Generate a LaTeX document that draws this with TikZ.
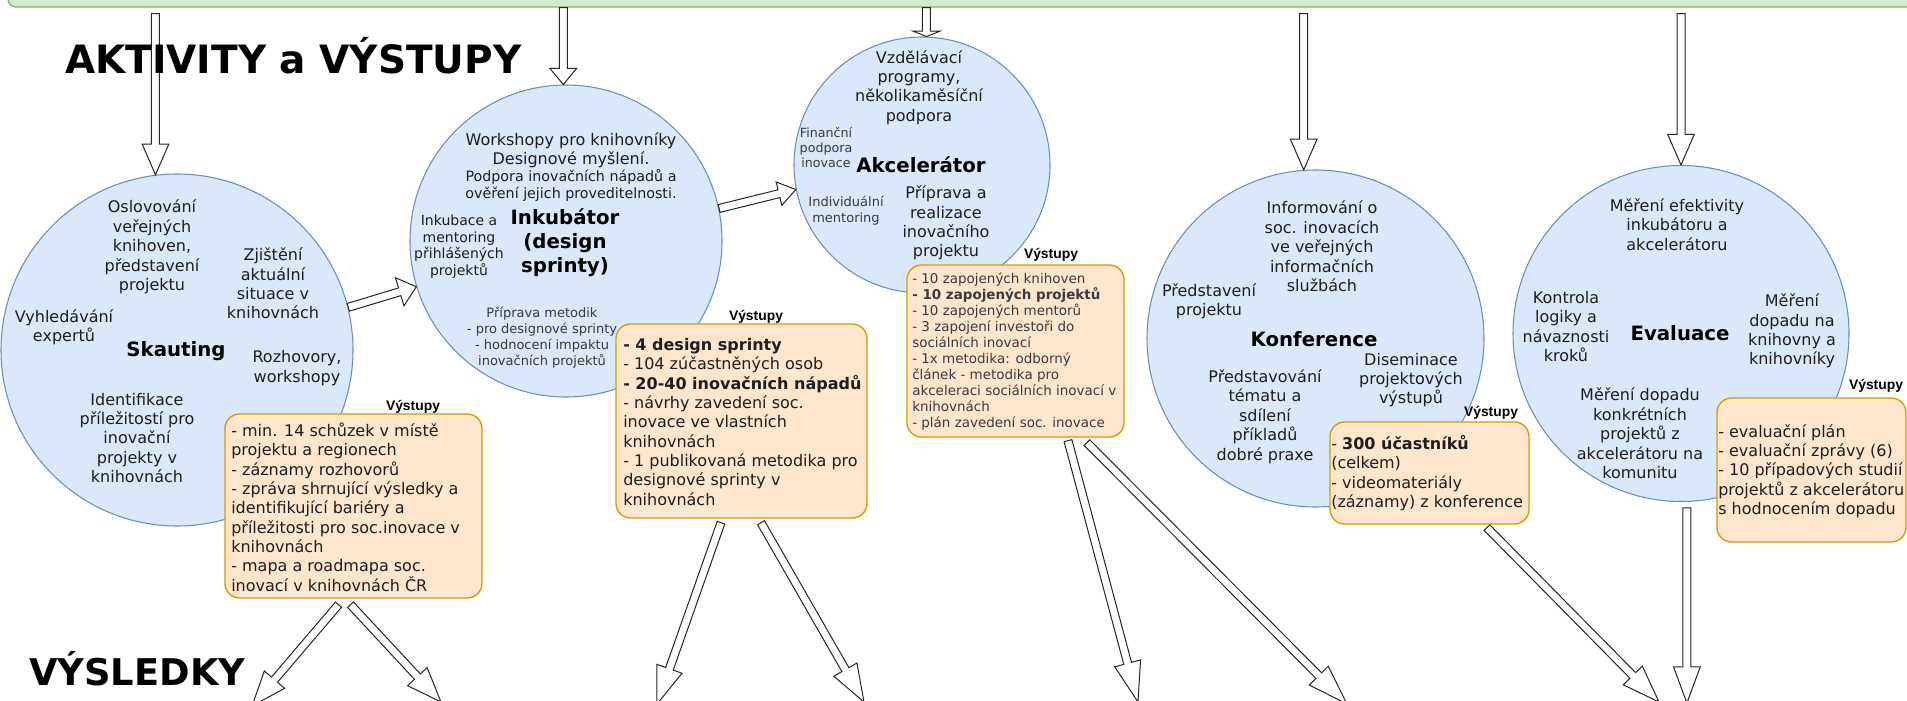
\documentclass[tikz,border=0pt]{standalone}
\usepackage{fontspec}
\setmainfont{DejaVu Sans}
\newfontfamily\labfont{Liberation Sans}
\usetikzlibrary{calc}
\definecolor{circfill}{HTML}{DAE8FC}
\definecolor{circdraw}{HTML}{6C8EBF}
\definecolor{boxfill}{HTML}{FFE6CC}
\definecolor{boxdraw}{HTML}{D79B00}
\definecolor{barfill}{HTML}{D5E8D4}
\definecolor{bardraw}{HTML}{82B366}
\definecolor{txt}{HTML}{1E1E1E}
\definecolor{txtgrey}{HTML}{3A3A3A}
\newcommand\pxu{0.75pt}
% #1 tail, #2 tip, #3 shaft half width, #4 head half width, #5 head length
\newcommand\blockarrow[5]{%
  \coordinate (ba-h) at ($(#2)!#5!(#1)$);
  \draw[blockarr] ($(#1)!#3!90:(#2)$) -- ($(ba-h)!#3!-90:(#1)$) -- ($(ba-h)!#4!-90:(#1)$) -- (#2)
     -- ($(ba-h)!#4!90:(#1)$) -- ($(ba-h)!#3!90:(#1)$) -- ($(#1)!#3!-90:(#2)$) -- cycle;
}
\tikzset{
  circ/.style={circle, draw=circdraw, fill=circfill, line width=0.8pt, inner sep=0pt},
  vbox/.style={rectangle, rounded corners=11pt, draw=boxdraw, fill=boxfill, line width=1pt, inner sep=0pt},
  topbar/.style={rectangle, rounded corners=6pt, draw=bardraw, fill=barfill, line width=1pt, inner sep=0pt},
  ctext/.style={align=center, inner sep=0pt, text=txt, font=\fontsize{12}{14.55}\selectfont},
  cmid/.style={align=center, inner sep=0pt, text=txt, font=\fontsize{10.7}{12.75}\selectfont},
  cinc/.style={align=center, inner sep=0pt, text=txt, font=\fontsize{10.5}{12.5}\selectfont},
  csmall/.style={align=center, inner sep=0pt, text=txtgrey, font=\fontsize{9.75}{12}\selectfont},
  ctiny/.style={align=center, inner sep=0pt, text=txtgrey, font=\fontsize{9.5}{11.6}\selectfont},
  ctitle/.style={align=center, inner sep=0pt, text=black, font=\fontsize{14.8}{18}\selectfont\bfseries},
  btext/.style={align=left, inner sep=0pt, anchor=west, text=txt, font=\fontsize{12}{14.5}\selectfont},
  bsmall/.style={align=left, inner sep=0pt, anchor=west, text=txtgrey, font=\fontsize{10.1}{12}\selectfont},
  vlabel/.style={inner sep=0pt, text=black, font=\labfont\fontsize{10.4}{12}\selectfont\bfseries},
  heading/.style={inner sep=0pt, anchor=base west, text=black, font=\fontsize{29.25}{34}\selectfont\bfseries},
  blockarr/.style={draw=black!85, fill=white, line width=0.75pt, line join=miter},
}
\begin{document}
\begin{tikzpicture}[x=0.75pt, y=-0.75pt]
\useasboundingbox (0,0) rectangle (1907,700);
\clip (0,0) rectangle (1907,700);
\fill[white] (0,0) rectangle (1907,700);

% top bar
\node[topbar, minimum width=1932*\pxu, minimum height=47*\pxu] (bar) at (974,-16.5) {};

% circles
\node[circ, minimum size=352*\pxu] (sk) at (177,350) {};
\node[circ, minimum size=312*\pxu] (ink) at (566,241) {};
\node[circ, minimum size=256*\pxu] (akc) at (922,165) {};
\node[circ, minimum size=337*\pxu] (kon) at (1315.5,338.5) {};
\node[circ, minimum size=336*\pxu] (eva) at (1681,333.5) {};

% Skauting texts
\node[ctext] (sk1) at (152,247) {Oslovování\\veřejných\\knihoven,\\představení\\projektu};
\node[ctext] (sk2) at (273,283.5) {Zjištění\\aktuální\\situace v\\knihovnách};
\node[ctext] (sk3) at (64,327.5) {Vyhledávání\\expertů};
\node[ctitle] (sk4) at (176,351) {Skauting};
\node[ctext] (sk5) at (297,368) {Rozhovory,\\workshopy};
\node[ctext] (sk6) at (137,438) {Identifikace\\příležitostí pro\\inovační\\projekty v\\knihovnách};

% Inkubator texts
\node[ctext] (ink1) at (571,150.5) {Workshopy pro knihovníky\\Designové myšlení.};
\node[cmid] (ink2) at (571,185.5) {Podpora inovačních nápadů a\\ověření jejich proveditelnosti.};
\node[cinc] (ink3) at (459,246.75) {Inkubace a\\mentoring\\přihlášených\\projektů};
\node[ctitle] (ink4) at (565,242.5) {Inkubátor\\(design\\sprinty)};
\node[csmall] (ink5) at (542,338) {Příprava metodik\\- pro designové sprinty\\- hodnocení impaktu\\inovačních projektů};

% Akcelerator texts
\node[ctext] (akc1) at (919,87.5) {Vzdělávací\\programy,\\několikaměsíční\\podpora};
\node[ctiny] (akc2) at (826,147.5) {Finanční\\podpora\\inovace};
\node[ctitle] (akc0) at (921,165) {Akcelerátor};
\node[csmall] (akc3) at (846,211) {Individuální\\mentoring};
\node[ctext] (akc4) at (946,223) {Příprava a\\realizace\\inovačního\\projektu};

% Konference texts
\node[ctext] (kon1) at (1322,246.5) {Informování o\\soc. inovacích\\ve veřejných\\informačních\\službách};
\node[ctext] (kon2) at (1209,301.5) {Představení\\projektu};
\node[ctitle] (kon3) at (1314,339) {Konference};
\node[ctext] (kon4) at (1265,416.5) {Představování\\tématu a\\sdílení\\příkladů\\dobré praxe};
\node[ctext] (kon5) at (1411,380) {Diseminace\\projektových\\výstupů};

% Evaluace texts
\node[ctext] (eva1) at (1677,224.5) {Měření efektivity\\inkubátoru a\\akcelerátoru};
\node[ctext] (eva2) at (1566,326.5) {Kontrola\\logiky a\\návaznosti\\kroků};
\node[ctitle] (eva3) at (1680,333) {Evaluace};
\node[ctext] (eva4) at (1792,331) {Měření\\dopadu na\\knihovny a\\knihovníky};
\node[ctext] (eva5) at (1640,433.5) {Měření dopadu\\konkrétních\\projektů z\\akcelerátoru na\\komunitu};

% top arrows
\coordinate (t1) at ($(sk.97 |- bar.south)+(0,6)$);
\coordinate (t2) at (ink.91 |- bar.south);
\coordinate (t3) at (akc.88 |- bar.south);
\coordinate (t4) at ($(kon.94 |- bar.south)+(0,6)$);
\coordinate (t5) at ($(eva.90 |- bar.south)+(0,6)$);
\blockarrow{t1}{sk.97}{3pt}{10pt}{23pt}
\blockarrow{t2}{ink.91}{3pt}{10pt}{12pt}
\blockarrow{t3}{akc.88}{3pt}{10pt}{4pt}
\blockarrow{t4}{kon.94}{3pt}{10pt}{23pt}
\blockarrow{t5}{eva.90}{3pt}{10pt}{23pt}

% circle to circle arrows
\blockarrow{sk.14}{ink.197}{3pt}{11pt}{13pt}
\blockarrow{ink.12}{akc.191}{3pt}{9pt}{13pt}

% output boxes
\node[vbox, minimum width=257*\pxu, minimum height=184*\pxu] (vb1) at (353.5,506) {};
\node[vbox, minimum width=251*\pxu, minimum height=194*\pxu] (vb2) at (741.5,421) {};
\node[vbox, minimum width=217*\pxu, minimum height=172*\pxu] (vb3) at (1015.5,351) {};
\node[vbox, minimum width=199*\pxu, minimum height=102*\pxu] (vb4) at (1429.5,473) {};
\node[vbox, minimum width=189*\pxu, minimum height=144*\pxu] (vb5) at (1811.5,470) {};

\node[vlabel] (vl1) at (413,407) {Výstupy};
\node[vlabel] (vl2) at (756,317) {Výstupy};
\node[vlabel] (vl3) at (1051,255) {Výstupy};
\node[vlabel] (vl4) at (1491,413) {Výstupy};
\node[vlabel] (vl5) at (1876,386) {Výstupy};

\node[btext] (vt1) at (231,507) {- min. 14 schůzek v místě\\projektu a regionech\\- záznamy rozhovorů\\- zpráva shrnující výsledky a\\identifikující bariéry a\\příležitosti pro soc.inovace v\\knihovnách\\- mapa a roadmapa soc.\\inovací v knihovnách ČR};
\node[btext] (vt2) at (623,422) {\textbf{- 4 design sprinty}\\- 104 zúčastněných osob\\\textbf{- 20-40 inovačních nápadů}\\- návrhy zavedení soc.\\inovace ve vlastních\\knihovnách\\- 1 publikovaná metodika pro\\designové sprinty v\\knihovnách};
\node[bsmall] (vt3) at (912,351.5) {- 10 zapojených knihoven\\\textbf{- 10 zapojených projektů}\\- 10 zapojených mentorů\\- 3 zapojení investoři do\\sociálních inovací\\- 1x metodika: odborný\\článek - metodika pro\\akceleraci sociálních inovací v\\knihovnách\\- plán zavedení soc. inovace};
\node[btext] (vt4) at (1331,473) {- \textbf{300 účastníků}\\(celkem)\\- videomateriály\\(záznamy) z konference};
\node[btext] (vt5) at (1718,471) {- evaluační plán\\- evaluační zprávy (6)\\- 10 případových studií\\projektů z akcelerátoru\\s hodnocením dopadu};

% bottom arrows (towards VÝSLEDKY)
\coordinate (sA) at ($(vb1.south)+(-15,6)$);
\coordinate (sB) at ($(vb1.south)+(-3,6)$);
\coordinate (sC) at ($(vb2.south)+(-20.5,4)$);
\coordinate (sD) at ($(vb2.south)+(19.5,4)$);
\coordinate (sE) at ($(vb3.south)+(52.5,3)$);
\coordinate (sF) at ($(vb3.south)+(71.5,5)$);
\coordinate (sG) at ($(vb4.south)+(57.5,3)$);
\coordinate (sH) at ($(eva.272)+(0,6)$);
\coordinate (bA) at (252,706);
\coordinate (bB) at (441,702);
\coordinate (bC) at (657,704);
\coordinate (bD) at (864,702);
\coordinate (bE) at (1138,702);
\coordinate (bF) at (1347,704);
\coordinate (bG) at (1659,702);
\coordinate (bH) at ($(eva.272)+(0,201)$);
\blockarrow{sA}{bA}{3pt}{10pt}{26pt}
\blockarrow{sB}{bB}{3pt}{10pt}{26pt}
\blockarrow{sC}{bC}{3pt}{10pt}{28pt}
\blockarrow{sD}{bD}{3pt}{10pt}{28pt}
\blockarrow{sE}{bE}{3pt}{10pt}{30pt}
\blockarrow{sF}{bF}{3pt}{10pt}{30pt}
\blockarrow{sG}{bG}{3pt}{10pt}{28pt}
\blockarrow{sH}{bH}{3pt}{10pt}{27pt}

% headings (drawn over the arrows)
\node[heading] (h1) at (65,73) {AKTIVITY a VÝSTUPY};
\node[heading, font=\fontsize{27.6}{32}\selectfont\bfseries] (h2) at (29,685) {VÝSLEDKY};
\end{tikzpicture}
\end{document}
